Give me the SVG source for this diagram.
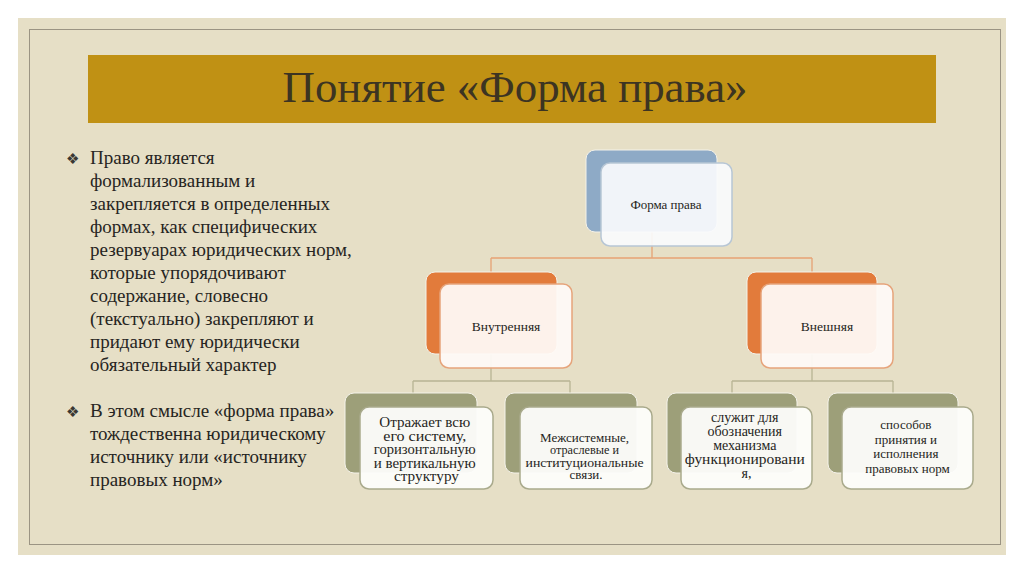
<svg xmlns="http://www.w3.org/2000/svg" width="1024" height="574" viewBox="0 0 1024 574">
<defs>
<style>
.txt{font-family:"Liberation Serif","Times New Roman",serif;fill:#262522}
.bul{font-family:"DejaVu Sans",sans-serif;font-size:15px;fill:#3a3833}
.body{font-size:19px}
.lbl{text-anchor:middle;font-size:13.5px}
.backB{fill:#8eaac6;stroke:#f4f2ea;stroke-width:1}
.frontB{fill:#fafbfd;fill-opacity:0.92;stroke:#b7c6d5;stroke-width:1.5}
.backO{fill:#e27b3b;stroke:#f4f2ea;stroke-width:1}
.frontO{fill:#fefaf7;fill-opacity:0.94;stroke:#e6a47b;stroke-width:1.5}
.backG{fill:#9d9f79;stroke:#f4f2ea;stroke-width:1}
.frontG{fill:#fdfdfb;fill-opacity:0.95;stroke:#a9aa8c;stroke-width:1.5}
.conO{fill:none;stroke:#e7a274;stroke-width:1.3}
.conG{fill:none;stroke:#b8b494;stroke-width:1.3}
</style>
</defs>
<rect x="0" y="0" width="1024" height="574" fill="#ffffff"/>
<rect x="18" y="18" width="988" height="537" fill="#e6dfc6"/>
<rect x="29.5" y="29.5" width="971" height="515" fill="none" stroke="#9b9483" stroke-width="1"/>
<g id="title">
<rect x="88" y="55" width="848" height="68" fill="#c09114"/>
<text x="515" y="102" text-anchor="middle" font-family="Liberation Serif, serif" font-size="44" fill="#3c3422" textLength="465" lengthAdjust="spacingAndGlyphs">Понятие «Форма права»</text>
</g>
<g id="bullets">
<text class="bul" x="66" y="164">❖</text>
<text class="txt body" x="90" y="164">
<tspan x="90" y="164">Право является</tspan>
<tspan x="90" y="187">формализованным и</tspan>
<tspan x="90" y="210">закрепляется в определенных</tspan>
<tspan x="90" y="233">формах, как специфических</tspan>
<tspan x="90" y="256">резервуарах юридических норм,</tspan>
<tspan x="90" y="279">которые упорядочивают</tspan>
<tspan x="90" y="302">содержание, словесно</tspan>
<tspan x="90" y="325">(текстуально) закрепляют и</tspan>
<tspan x="90" y="348">придают ему юридически</tspan>
<tspan x="90" y="371">обязательный характер</tspan>
</text>
<text class="bul" x="66" y="417">❖</text>
<text class="txt body">
<tspan x="90" y="417">В этом смысле «форма права»</tspan>
<tspan x="90" y="440">тождественна юридическому</tspan>
<tspan x="90" y="463">источнику или «источнику</tspan>
<tspan x="90" y="486">правовых норм»</tspan>
</text>
</g>
<g id="connectors">
<path class="conO" d="M652 232 V258 M491 258 H812 M491 258 V272 M812 258 V272"/>
<path class="conG" d="M491 354 V381 M413 381 H570 M413 381 V393 M570 381 V393"/>
<path class="conG" d="M812 354 V381 M732 381 H893 M732 381 V393 M893 381 V393"/>
</g>
<g id="node-forma">
<rect class="backB" x="586" y="150" width="131" height="82" rx="9"/>
<rect class="frontB" x="601" y="163" width="131" height="83" rx="9"/>
<text class="txt lbl" x="666" y="209" style="font-size:13px">Форма права</text>
</g>
<g id="node-vnutr">
<rect class="backO" x="426" y="272" width="131" height="82" rx="9"/>
<rect class="frontO" x="440" y="284" width="132" height="84" rx="9"/>
<text class="txt lbl" x="506" y="331">Внутренняя</text>
</g>
<g id="node-vnesh">
<rect class="backO" x="747" y="272" width="130" height="82" rx="9"/>
<rect class="frontO" x="761" y="284" width="132" height="84" rx="9"/>
<text class="txt lbl" x="827" y="331">Внешняя</text>
</g>
<g id="node-b1">
<rect class="backG" x="345" y="393" width="132" height="80" rx="9"/>
<rect class="frontG" x="360" y="407" width="133" height="82" rx="9"/>
<text class="txt lbl" style="font-size:14px" lengthAdjust="spacingAndGlyphs">
<tspan x="426.5" y="427" textLength="91" lengthAdjust="spacingAndGlyphs">Отражает всю</tspan>
<tspan x="426.5" y="440.5" textLength="83" lengthAdjust="spacingAndGlyphs">его систему,</tspan>
<tspan x="426.5" y="454" textLength="102" lengthAdjust="spacingAndGlyphs">горизонтальную</tspan>
<tspan x="426.5" y="467.5" textLength="102" lengthAdjust="spacingAndGlyphs">и вертикальную</tspan>
<tspan x="426.5" y="481" textLength="65" lengthAdjust="spacingAndGlyphs">структуру</tspan>
</text>
</g>
<g id="node-b2">
<rect class="backG" x="505" y="393" width="132" height="80" rx="9"/>
<rect class="frontG" x="520" y="407" width="132" height="82" rx="9"/>
<text class="txt lbl" style="font-size:11.8px">
<tspan x="586" y="442" textLength="89" lengthAdjust="spacingAndGlyphs">Межсистемные,</tspan>
<tspan x="586" y="454.3" textLength="69" lengthAdjust="spacingAndGlyphs">отраслевые и</tspan>
<tspan x="586" y="466.6" textLength="118" lengthAdjust="spacingAndGlyphs">институциональные</tspan>
<tspan x="586" y="479" textLength="33" lengthAdjust="spacingAndGlyphs">связи.</tspan>
</text>
</g>
<g id="node-b3">
<rect class="backG" x="667" y="393" width="130" height="80" rx="9"/>
<rect class="frontG" x="681" y="407" width="131" height="82" rx="9"/>
<text class="txt lbl" style="font-size:14px">
<tspan x="746.5" y="422">служит для</tspan>
<tspan x="746.5" y="436">обозначения</tspan>
<tspan x="746.5" y="450">механизма</tspan>
<tspan x="746.5" y="464" textLength="120" lengthAdjust="spacingAndGlyphs">функционировани</tspan>
<tspan x="746.5" y="478">я,</tspan>
</text>
</g>
<g id="node-b4">
<rect class="backG" x="828" y="393" width="130" height="80" rx="9"/>
<rect class="frontG" x="842" y="407" width="131" height="82" rx="9"/>
<text class="txt lbl" style="font-size:13px">
<tspan x="907.5" y="429">способов</tspan>
<tspan x="907.5" y="443.7">принятия и</tspan>
<tspan x="907.5" y="458.3">исполнения</tspan>
<tspan x="907.5" y="473">правовых норм</tspan>
</text>
</g>
</svg>
